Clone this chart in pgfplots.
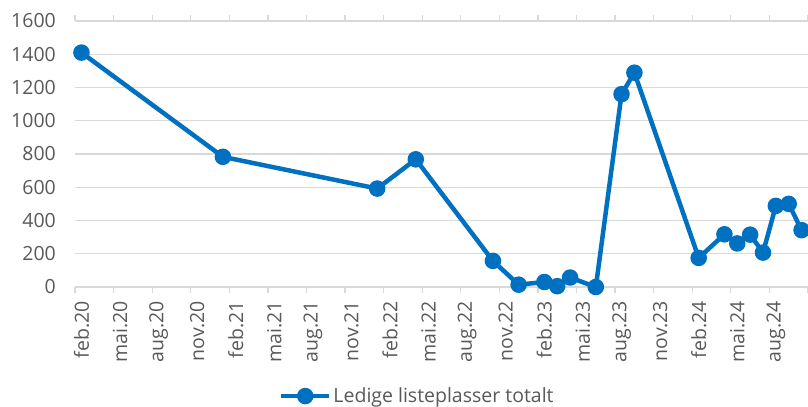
\documentclass[border=0pt]{standalone}
\usepackage{pgfplots}
\pgfplotsset{compat=1.18}
\usepackage{fontspec}
\setmainfont{Open Sans}
\definecolor{lineblue}{RGB}{0,112,192}
\definecolor{txtgray}{RGB}{89,89,89}
\definecolor{gridgray}{RGB}{217,217,217}
\begin{document}
\begin{tikzpicture}
\begin{axis}[
  scale only axis, width=733bp, height=266bp,
  xmin=-0.5, xmax=56.5, ymin=0, ymax=1600,
  axis line style={draw=none},
  ytick={0,200,...,1600},
  ymajorgrids, grid style={gridgray, line width=1.3bp},
  ytick style={draw=none},
  xtick={0,3,...,54},
  xticklabels={feb.20,mai.20,aug.20,nov.20,feb.21,mai.21,aug.21,nov.21,feb.22,mai.22,aug.22,nov.22,feb.23,mai.23,aug.23,nov.23,feb.24,mai.24,aug.24},
  xtick style={draw=none},
  extra x ticks={-0.5,2.5,...,56.5},
  extra x tick labels={},
  extra x tick style={xtick style={draw=gridgray, line width=1.3bp}, major tick length=6bp, tick align=outside},
  tick label style={font=\fontsize{19.5bp}{23bp}\selectfont, text=txtgray},
  /pgf/number format/assume math mode=true,
  /pgf/number format/1000 sep={},
  yticklabel style={anchor=east, inner sep=0pt, xshift=-19bp},
  xticklabel style={yshift=-14bp, rotate=90, anchor=east, inner sep=0pt},
  legend style={draw=none, at={(0.467,-0.41)}, anchor=center, font=\fontsize{19.5bp}{23bp}\selectfont, text=txtgray, inner sep=0pt,
    /tikz/every odd column/.append style={column sep=0pt}},
]
\addplot[lineblue, line width=4.5bp, line join=round, mark=*, mark size=6bp, mark options={solid, fill=lineblue, draw=none},
  legend image code/.code={\draw[lineblue, line width=4.5bp] (0bp,0bp) -- (48bp,0bp); \fill[lineblue] (24bp,0bp) circle (6bp);}]
coordinates {
(0,1410) (11,783) (23,592) (26,768) (32,157) (34,14) (36,30) (37,5) (38,57) (40,0)
(42,1160) (43,1289) (48,175) (50,317) (51,262) (52,315) (53,207) (54,488) (55,500) (56,342)
};
\addlegendentry{Ledige listeplasser totalt}
\end{axis}
\pgfresetboundingbox
\path[use as bounding box] (-75bp,-120bp) rectangle (733bp,287bp);
\end{tikzpicture}
\end{document}
